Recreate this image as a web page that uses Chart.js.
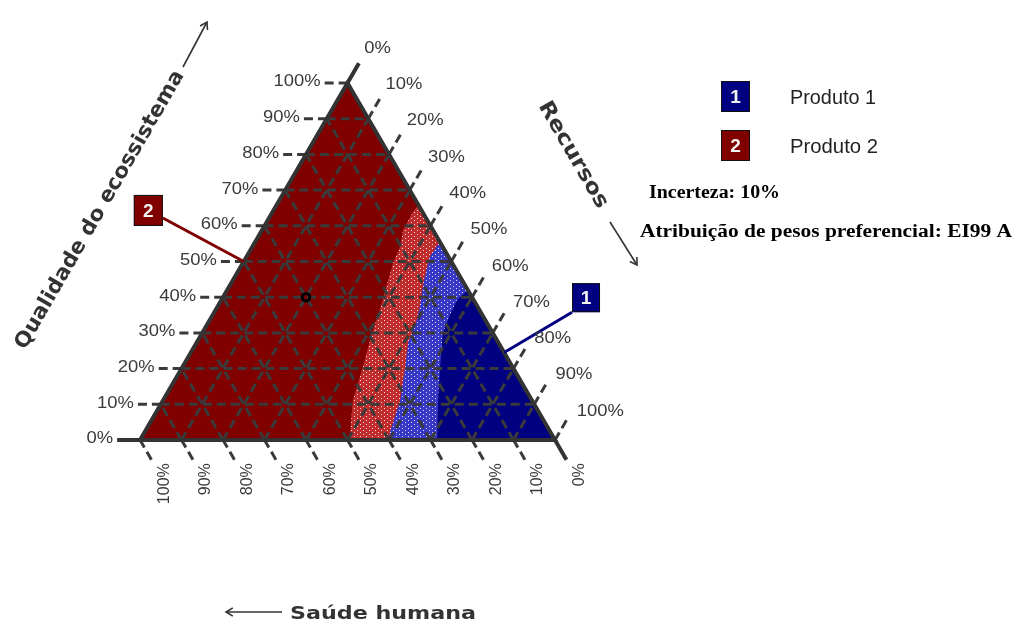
<!DOCTYPE html>
<html><head><meta charset="utf-8">
<script src="https://cdn.jsdelivr.net/npm/chart.js@4/dist/chart.umd.min.js"></script>
<style>html,body{margin:0;padding:0;background:#fff}canvas{display:block}</style>
</head><body>
<canvas id="c" width="1014" height="622" style="width:1014px;height:622px"></canvas>
<script>
// ---------- DATA (ternary coordinates in %: [Saúde humana, Recursos, Qualidade do ecossistema]) ----------
const tickValues = [0, 10, 20, 30, 40, 50, 60, 70, 80, 90, 100];
const tickLabels = ['0%', '10%', '20%', '30%', '40%', '50%', '60%', '70%', '80%', '90%', '100%'];
const gridValues = [10, 20, 30, 40, 50, 60, 70, 80, 90];
const triangleCorners = [[100, 0, 0], [0, 0, 100], [0, 100, 0]];
// Boundary: Produto 2 (certain) -> Produto 2 (uncertain)
const boundaryP2 = [[0,34.2,65.8],[2.3,33.8,63.9],[7.2,34,58.8],[10.3,35.6,54.1],[14.2,36.2,49.6],[17.8,37.4,44.8],[22.5,39.1,38.4],[29.1,40.9,30],[36.1,43.5,20.4],[43.1,45.7,11.2],[48.4,49.6,2],[49.6,50.4,0]];
// Boundary: Produto 2 (uncertain) -> Produto 1 (uncertain)
const boundaryMid = [[0,44.5,55.5],[4.5,44.2,51.3],[8.5,45.8,45.7],[11,47,42],[13.6,48.6,37.8],[16.5,49.9,33.6],[21.8,51,27.2],[25.9,53.7,20.4],[31.7,57.1,11.2],[38.8,59.2,2],[40,60,0]];
// Boundary: Produto 1 (uncertain) -> Produto 1 (certain)
const boundaryP1 = [[0,58,42],[4,56.8,39.2],[8,57.2,34.8],[12,58,30],[17.5,62.1,20.4],[22.6,66.2,11.2],[27.4,70.6,2],[28.4,71.6,0]];
const productNames = ['Produto 1', 'Produto 2'];
const productIds = ['1', '2'];
const calloutFrom = [[-22, 86.2, 35.8], [63.4, -25.6, 62.2]];
const calloutTo = [[0, 75.5, 24.5], [50, 0, 50]];
const weightPoint = [[40, 20, 40]];
const uncertaintyText = 'Incerteza: 10%';
const weightingText = 'Atribuição de pesos preferencial: EI99 A';
const axisTitles = ['Saúde humana', 'Recursos', 'Qualidade do ecossistema'];

// ---------- helpers ----------
function toXY(p) { const r = p[1] / 100, e = p[2] / 100; return { x: r + e / 2, y: e }; }
const RED = 'rgb(128,0,0)', NAVY = 'rgb(0,0,128)', GRID = '#3a3a3a', EDGE = '#333333';
const mainCtx = document.getElementById('c').getContext('2d');
function makePattern(base, dot) {
  const t = document.createElement('canvas'); t.width = 6; t.height = 4;
  const g = t.getContext('2d'); g.fillStyle = base; g.fillRect(0, 0, 6, 4);
  g.fillStyle = dot; g.fillRect(0, 0, 1, 1); g.fillRect(3, 2, 1, 1);
  return mainCtx.createPattern(t, 'repeat');
}
const redDots = makePattern('rgb(192,44,44)', 'rgb(255,225,225)');
const blueDots = makePattern('rgb(56,56,200)', 'rgb(225,225,255)');
function poly(pts, color, order) {
  const d = pts.map(toXY); d.push(d[0]);
  return { data: d, showLine: true, fill: 'shape', backgroundColor: color, borderColor: color, borderWidth: 0, pointRadius: 0, order: order, clip: false };
}
function seg(a, b, style, order) {
  return Object.assign({ data: [toXY(a), toXY(b)], showLine: true, fill: false, pointRadius: 0, order: order, clip: false, borderCapStyle: 'butt' }, style);
}
const datasets = [];
datasets.push(poly(triangleCorners, RED, 100));
datasets.push(poly(boundaryP2.concat([[0, 100, 0]]), redDots, 99));
datasets.push(poly(boundaryMid.concat([[0, 100, 0]]), blueDots, 98));
datasets.push(poly(boundaryP1.concat([[0, 100, 0]]), NAVY, 97));
const dashStyle = { borderColor: GRID, borderWidth: 3, borderDash: [9, 5] };
const solidStyle = { borderColor: EDGE, borderWidth: 4 };
gridValues.forEach(k => {
  datasets.push(seg([100 - k, 0, k], [0, 100 - k, k], dashStyle, 50));   // ecossistema constant
  datasets.push(seg([100 - k, k, 0], [0, k, 100 - k], dashStyle, 50));   // recursos constant
  datasets.push(seg([k, 100 - k, 0], [k, 0, 100 - k], dashStyle, 50));   // saude constant
});
const T = 5.5;
tickValues.forEach(k => {
  const st = k === 0 ? solidStyle : dashStyle;
  datasets.push(seg([100 - k + T, -T, k], [100 - k, 0, k], st, 40));
  datasets.push(seg([-T, k, 100 - k + T], [0, k, 100 - k], st, 40));
  datasets.push(seg([k, 100 - k + T, -T], [k, 100 - k, 0], st, 40));
});
const border = poly(triangleCorners, 'rgba(0,0,0,0)', 10);
border.fill = false; border.borderWidth = 4; border.borderColor = EDGE; border.borderJoinStyle = 'miter';
datasets.push(border);
datasets.push(seg(calloutFrom[0], calloutTo[0], { borderColor: NAVY, borderWidth: 3 }, 8));
datasets.push(seg(calloutFrom[1], calloutTo[1], { borderColor: RED, borderWidth: 3 }, 8));
datasets.push({ data: weightPoint.map(toXY), showLine: false, pointRadius: 3.8, pointBorderWidth: 3, pointBorderColor: '#000', pointBackgroundColor: 'rgba(0,0,0,0)', order: 1, clip: false });

function txt(ctx, s, x, y, o) {
  ctx.save(); ctx.translate(x, y); if (o.rot) ctx.rotate(o.rot);
  ctx.font = o.font; ctx.fillStyle = o.color || '#333';
  ctx.textAlign = o.align || 'left'; ctx.textBaseline = o.base || 'middle';
  let sx = o.sx || 1; if (o.width) sx = o.width / ctx.measureText(s).width;
  ctx.scale(sx, 1); ctx.fillText(s, 0, 0); ctx.restore();
}
function arrow(ctx, x1, y1, x2, y2) {
  ctx.save(); ctx.strokeStyle = '#333'; ctx.lineWidth = 1.6;
  ctx.beginPath(); ctx.moveTo(x1, y1); ctx.lineTo(x2, y2); ctx.stroke();
  const a = Math.atan2(y2 - y1, x2 - x1), L = 8;
  ctx.beginPath(); ctx.moveTo(x2 - L * Math.cos(a - 0.55), y2 - L * Math.sin(a - 0.55));
  ctx.lineTo(x2, y2); ctx.lineTo(x2 - L * Math.cos(a + 0.55), y2 - L * Math.sin(a + 0.55)); ctx.stroke();
  ctx.restore();
}
function box(ctx, x, y, w, h, fill, label) {
  ctx.save(); ctx.fillStyle = fill; ctx.fillRect(x, y, w, h);
  ctx.strokeStyle = '#111'; ctx.lineWidth = 1; ctx.strokeRect(x + 0.5, y + 0.5, w - 1, h - 1);
  ctx.restore();
  txt(ctx, label, x + w / 2, y + h / 2 + 1, { font: 'bold 19px "Liberation Sans"', color: '#f2f2f2', align: 'center' });
}
const textPlugin = {
  id: 'ternaryText',
  afterDraw(chart) {
    const ctx = chart.ctx, xs = chart.scales.x, ys = chart.scales.y;
    const px = p => { const c = toXY(p); return [xs.getPixelForValue(c.x), ys.getPixelForValue(c.y)]; };
    const tf = '16px "Liberation Sans"', tc = '#3a3a3a';
    tickValues.forEach((k, i) => {
      let p = px([100 - k + 6.5, -6.5, k]);
      txt(ctx, tickLabels[i], p[0], p[1] - 1, { font: tf, color: tc, align: 'right', sx: 1.15 });
      p = px([-10, k, 110 - k]);
      txt(ctx, tickLabels[i], p[0] - 4 + k * 0.05, p[1] + 1 + k * 0.06, { font: tf, color: tc, align: 'left', sx: 1.15 });
      p = px([k, 106.5 - k, -6.5]);
      txt(ctx, tickLabels[i], p[0] + 11, p[1], { font: tf, color: tc, align: 'right', rot: -Math.PI / 2 });
    });
    // axis titles
    txt(ctx, axisTitles[2], 100, 210, { font: 'bold 21px "DejaVu Sans"', color: '#333', align: 'center', rot: -Math.PI / 3, width: 318 });
    arrow(ctx, 183, 67, 207, 22);
    txt(ctx, axisTitles[1], 573, 155, { font: 'bold 21px "DejaVu Sans"', color: '#333', align: 'center', rot: Math.PI / 3, width: 120 });
    arrow(ctx, 610, 222, 637, 265);
    txt(ctx, axisTitles[0], 290, 619, { font: 'bold 17px "DejaVu Sans"', color: '#333', align: 'left', base: 'alphabetic', width: 186 });
    arrow(ctx, 282, 612, 226, 612);
    // callout boxes
    let a = px(calloutFrom[0]); box(ctx, a[0], a[1] - 29, 28, 29, NAVY, productIds[0]);
    a = px(calloutFrom[1]); box(ctx, a[0] - 29, a[1] - 23, 29, 31, RED, productIds[1]);
    // legend
    box(ctx, 721, 81, 29, 31, NAVY, productIds[0]);
    box(ctx, 721, 130, 29, 31, RED, productIds[1]);
    txt(ctx, productNames[0], 790, 98, { font: '20px "Liberation Sans"', color: '#222', width: 86 });
    txt(ctx, productNames[1], 790, 147, { font: '20px "Liberation Sans"', color: '#222', width: 88 });
    txt(ctx, uncertaintyText, 649, 193, { font: 'bold 18px "Liberation Serif"', color: '#000', width: 131 });
    txt(ctx, weightingText, 640, 232, { font: 'bold 18px "Liberation Serif"', color: '#000', width: 372 });
  }
};
new Chart(document.getElementById('c'), {
  type: 'scatter',
  data: { datasets: datasets },
  options: {
    responsive: false, animation: false, devicePixelRatio: 1,
    layout: { padding: 0, autoPadding: false },
    plugins: { legend: { display: false }, tooltip: { enabled: false }, title: { display: false } },
    events: [],
    scales: {
      x: { type: 'linear', display: false, min: -140 / 415, max: (1014 - 140) / 415 },
      y: { type: 'linear', display: false, min: -(622 - 440) / 357, max: 440 / 357 }
    }
  },
  plugins: [textPlugin]
});
</script>
</body></html>
